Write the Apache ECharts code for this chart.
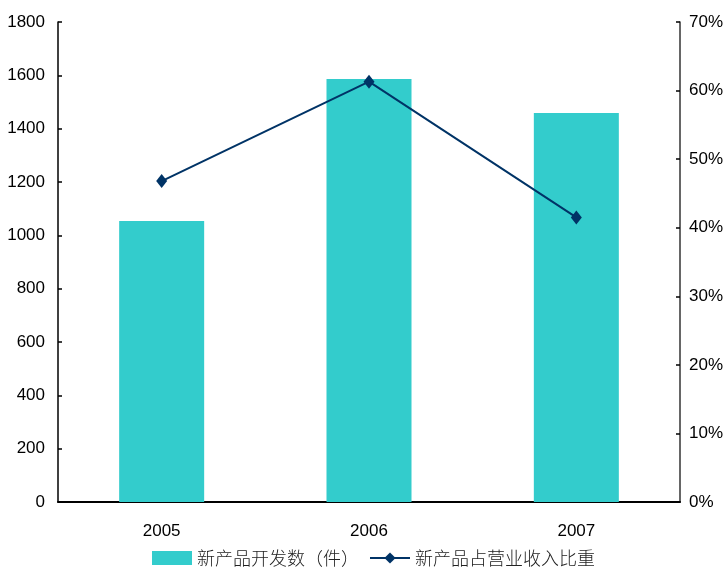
<!DOCTYPE html>
<html><head><meta charset="utf-8">
<script src="https://cdn.jsdelivr.net/npm/echarts@6/dist/echarts.min.js"></script>
<style>html,body{margin:0;padding:0;background:#fff}#c{width:724px;height:570px}</style>
</head><body><div id="c"></div>
<script>
const categories = ['2005', '2006', '2007'];
const newProducts = [1054, 1586, 1459];
const revenueShare = [46.8, 61.3, 41.5];
const barName = '新产品开发数（件）';
const lineName = '新产品占营业收入比重';

const numFont = '"Liberation Sans Narrow", "Arial Narrow", "Liberation Sans", Arial, sans-serif';
const chart = echarts.init(document.getElementById('c'));
chart.setOption({
  animation: false,
  backgroundColor: '#fff',
  grid: { left: 58, right: 44, top: 22, bottom: 68, containLabel: false, outerBoundsMode: 'none' },
  legend: {
    top: 549, left: 152,
    itemGap: 10,
    padding: 0,
    textStyle: { fontFamily: '"Noto Sans CJK SC", sans-serif', fontSize: 18, color: '#222', fontWeight: 300 },
    data: [
      { name: barName, icon: 'rect', itemStyle: { color: '#33CCCC' } },
      { name: lineName }
    ],
    itemWidth: 40, itemHeight: 14
  },
  xAxis: {
    type: 'category', data: categories,
    axisLine: { lineStyle: { color: '#000', width: 2 } },
    axisTick: { inside: true, length: 5, lineStyle: { color: '#000' } },
    axisLabel: { color: '#000', fontSize: 17, fontFamily: numFont, margin: 21 }
  },
  yAxis: [
    {
      type: 'value', min: 0, max: 1800, interval: 200,
      axisLine: { show: true, lineStyle: { color: '#000', width: 1.5 } },
      axisTick: { show: true, inside: true, length: 4, lineStyle: { color: '#000', width: 1.5 } },
      axisLabel: { color: '#000', fontSize: 17, fontFamily: numFont, margin: 13, formatter: v => String(v) },
      splitLine: { show: false }
    },
    {
      type: 'value', min: 0, max: 70, interval: 10,
      axisLine: { show: true, lineStyle: { color: '#333', width: 1.5 } },
      axisTick: { show: true, inside: true, length: 4, lineStyle: { color: '#000', width: 1.5 } },
      axisLabel: { color: '#000', fontSize: 17, fontFamily: numFont, margin: 9, formatter: v => v + '%' },
      splitLine: { show: false }
    }
  ],
  series: [
    {
      name: barName, type: 'bar', data: newProducts, barWidth: 85,
      itemStyle: { color: '#33CCCC' }
    },
    {
      name: lineName, type: 'line', yAxisIndex: 1, data: revenueShare,
      symbol: 'diamond', symbolSize: [11, 14],
      lineStyle: { color: '#003366', width: 2 },
      itemStyle: { color: '#003366' }
    }
  ]
});
</script></body></html>
